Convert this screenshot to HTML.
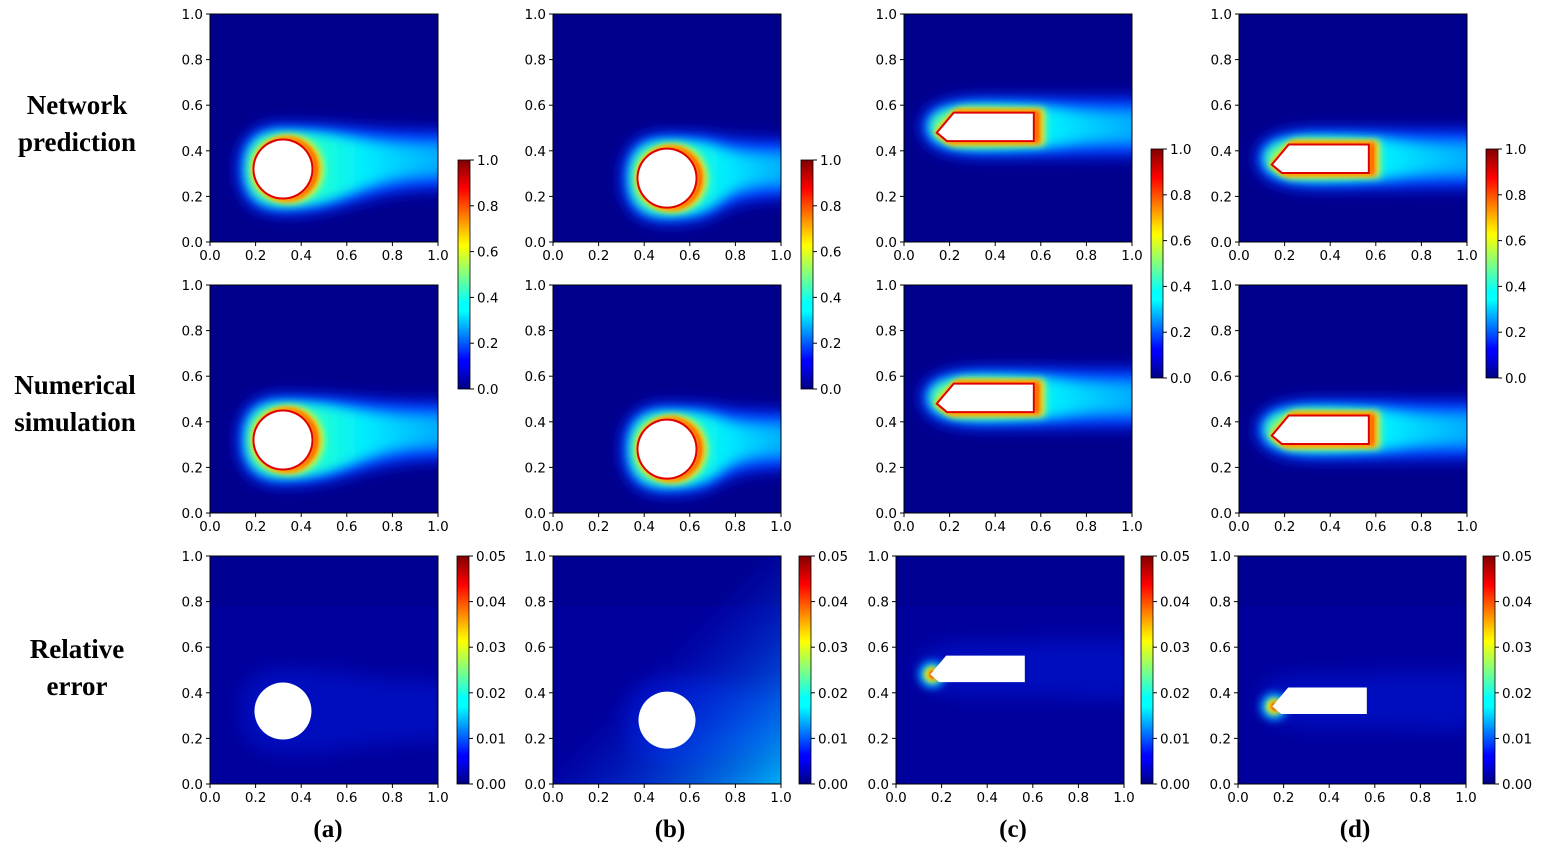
<!DOCTYPE html>
<html><head><meta charset="utf-8">
<style>
html,body{margin:0;padding:0;background:#fff;}
svg text{font-family:"DejaVu Sans","Liberation Sans",sans-serif;}
</style></head>
<body>
<div id="root"></div>
<script>
const W=228;
const jetStops=[[0,'#000080'],[0.11,'#0000ff'],[0.125,'#0000ff'],[0.34,'#00ffff'],[0.375,'#00ffff'],[0.5,'#80ff80'],[0.625,'#ffff00'],[0.66,'#ffe000'],[0.875,'#ff0000'],[0.89,'#f00000'],[1,'#800000']];
let defs='<defs>';
defs+='<linearGradient id="jet" x1="0" y1="1" x2="0" y2="0">'+jetStops.map(s=>`<stop offset="${s[0]}" stop-color="${s[1]}"/>`).join('')+'</linearGradient>';
[2,3,4,5,6,8,10].forEach(b=>{defs+=`<filter id="b${b}" x="-50%" y="-50%" width="200%" height="200%"><feGaussianBlur stdDeviation="${b}"/></filter>`;});
defs+='<linearGradient id="fadeA" x1="0" x2="1"><stop offset="0" stop-color="#0070ff"/><stop offset="1" stop-color="#0068ff"/></linearGradient>';
defs+='<linearGradient id="fadeB" x1="0" x2="1"><stop offset="0" stop-color="#00e0ff"/><stop offset="0.6" stop-color="#00b8ff"/><stop offset="1" stop-color="#00a0ff"/></linearGradient>';
defs+='<linearGradient id="fadeC" x1="0" x2="1"><stop offset="0" stop-color="#80ff80"/><stop offset="0.35" stop-color="#20ffd0"/><stop offset="0.6" stop-color="#00ffff" stop-opacity="0.7"/><stop offset="1" stop-color="#00e0ff" stop-opacity="0.1"/></linearGradient>';
defs+='<linearGradient id="errB" x1="0" y1="0" x2="1" y2="1"><stop offset="0.45" stop-color="#0030ff" stop-opacity="0"/><stop offset="1" stop-color="#00c0ff" stop-opacity="0.9"/></linearGradient>';
defs+='</defs>';

const X=x=>x*W, Y=y=>W-y*W;
function obst(s){
  if(s.t==='c') return {svg:(a)=>`<circle cx="${X(s.cx)}" cy="${Y(s.cy)}" r="${s.r*W}" ${a}/>`,L:X(s.cx-s.r),R:X(s.cx+s.r),T:Y(s.cy+s.r),B:Y(s.cy-s.r),cy:Y(s.cy),tip:[X(s.cx-s.r),Y(s.cy)]};
  const d=s.dy;
  const pts=[[0.15,0.48+d],[0.22,0.563+d],[0.565,0.563+d],[0.565,0.447+d],[0.19,0.447+d]];
  const p=pts.map(q=>X(q[0])+','+Y(q[1])).join(' ');
  return {svg:(a)=>`<polygon points="${p}" ${a}/>`,L:X(0.15),R:X(0.565),T:Y(0.563+d),B:Y(0.447+d),cy:Y(0.505+d),tip:[X(0.15),Y(0.48+d)]};
}
function wake(o,w0,hw,shift,fill,blur){
  const L=o.L-w0,T=o.T-w0,B=o.B+w0,M=(o.L+o.R)/2,c=o.cy-shift;
  const te=c-hw,be=c+hw;
  return `<path d="M${L},${o.cy} Q${L},${T} ${M},${T} C${o.R+40},${T} 150,${te} ${W+10},${te} L${W+10},${be} C150,${be} ${o.R+40},${B} ${M},${B} Q${L},${B} ${L},${o.cy} Z" fill="${fill}" filter="url(#b${blur})"/>`;
}
function axes(x0,y0){
  let s=`<rect x="${x0}" y="${y0}" width="${W}" height="${W}" fill="none" stroke="#000" stroke-width="1"/>`;
  for(let i=0;i<=5;i++){
    const v=(i*0.2).toFixed(1);
    const px=x0+i*W/5, py=y0+W-i*W/5;
    s+=`<line x1="${px}" y1="${y0+W}" x2="${px}" y2="${y0+W+4}" stroke="#000"/>`;
    s+=`<text x="${px}" y="${y0+W+18}" font-size="13.5" text-anchor="middle">${v}</text>`;
    s+=`<line x1="${x0-4}" y1="${py}" x2="${x0}" y2="${py}" stroke="#000"/>`;
    s+=`<text x="${x0-7}" y="${py+5}" font-size="13.5" text-anchor="end">${v}</text>`;
  }
  return s;
}
function panel(x0,y0,s,err){
  const o=obst(s);
  let g=`<svg x="${x0}" y="${y0}" width="${W}" height="${W}" viewBox="0 0 ${W} ${W}" overflow="hidden">`;
  if(!err){
    const sh=s.t==='c'?0.04*W:0.0;
    g+=`<rect width="${W}" height="${W}" fill="#00008c"/>`;
    g+=wake(o,17,30,sh,'#0020f0',8);
    g+=wake(o,13,23,sh,'url(#fadeA)',6);
    g+=wake(o,9,15,sh,'url(#fadeB)',5);
    g+=wake(o,6,9,sh,'url(#fadeC)',5);
    g+=`<g transform="translate(7,0)" filter="url(#b4)">${o.svg('fill="#d0ff40" stroke="#d0ff40" stroke-width="10"')}</g>`;
    g+=`<g transform="translate(5,0)" filter="url(#b3)">${o.svg('fill="#ffb000" stroke="#ffb000" stroke-width="8"')}</g>`;
    g+=`<g transform="translate(3,0)" filter="url(#b2)">${o.svg('fill="#ff2000" stroke="#ff2000" stroke-width="5"')}</g>`;
    g+=o.svg(`fill="none" stroke="#ffe000" stroke-width="7" filter="url(#b2)" opacity="0.7"`);
    g+=o.svg(`fill="none" stroke="#e00000" stroke-width="4"`);
    g+=o.svg(`fill="#fff"`);
  } else {
    g+=`<rect width="${W}" height="${W}" fill="#00009c"/>`;
    g+=`<rect x="0" y="0" width="${W}" height="50" fill="#000090" opacity="0.7"/>`;
    g+=wake(o,14,30,0,'#0028ff',10).replace('/>',' opacity="0.35"/>');
    if(s.t==='c'&&s.cx>0.4) g+=`<rect width="${W}" height="${W}" fill="url(#errB)"/>`;
    if(s.t==='b'){
      const [tx,ty]=o.tip;
      g+=`<circle cx="${tx+2}" cy="${ty}" r="14" fill="#00a0ff" filter="url(#b4)"/>`;
      g+=`<circle cx="${tx+2}" cy="${ty}" r="8" fill="#ffff00" filter="url(#b3)"/>`;
      g+=`<circle cx="${tx+3}" cy="${ty}" r="4" fill="#e00000" filter="url(#b2)"/>`;
    }
    g+=o.svg(`fill="#fff"`);
  }
  g+='</svg>';
  return g+axes(x0,y0);
}
function cbar(x0,y0,h,errScale){
  let s=`<rect x="${x0}" y="${y0}" width="12" height="${h}" fill="url(#jet)" stroke="#000" stroke-width="0.8"/>`;
  for(let i=0;i<=5;i++){
    const py=y0+h-i*h/5;
    const v=errScale?(i*0.01).toFixed(2):(i*0.2).toFixed(1);
    s+=`<line x1="${x0+12}" y1="${py}" x2="${x0+16}" y2="${py}" stroke="#000"/>`;
    s+=`<text x="${x0+19}" y="${py+5}" font-size="13.5">${v}</text>`;
  }
  return s;
}
const shapes=[{t:'c',cx:0.32,cy:0.32,r:0.125},{t:'c',cx:0.5,cy:0.28,r:0.125},{t:'b',dy:0},{t:'b',dy:-0.14}];
const xs12=[210,553,904,1239], xs3=[210,553,896,1238];
let body='';
for(let c=0;c<4;c++){
  body+=panel(xs12[c],14,shapes[c],false);
  body+=panel(xs12[c],285,shapes[c],false);
  body+=panel(xs3[c],556,shapes[c],true);
}
body+=cbar(458,160,229,false)+cbar(801,160,229,false)+cbar(1151,149,229,false)+cbar(1486,149,229,false);
body+=cbar(457,556,228,true)+cbar(799,556,228,true)+cbar(1141,556,228,true)+cbar(1483,556,228,true);
const lab=(x,y,t,sz)=>`<text x="${x}" y="${y}" font-size="${sz}" font-weight="bold" text-anchor="middle" style="font-family:'Liberation Serif',serif">${t}</text>`;
body+=lab(77,114,'Network',27)+lab(77,151,'prediction',27);
body+=lab(75,394,'Numerical',27)+lab(75,431,'simulation',27);
body+=lab(77,658,'Relative',27)+lab(77,695,'error',27);
body+=lab(328,837,'(a)',25)+lab(670,837,'(b)',25)+lab(1013,837,'(c)',25)+lab(1355,837,'(d)',25);
document.getElementById('root').innerHTML=`<svg width="1546" height="860" xmlns="http://www.w3.org/2000/svg">${defs}${body}</svg>`;
</script>
</body></html>
